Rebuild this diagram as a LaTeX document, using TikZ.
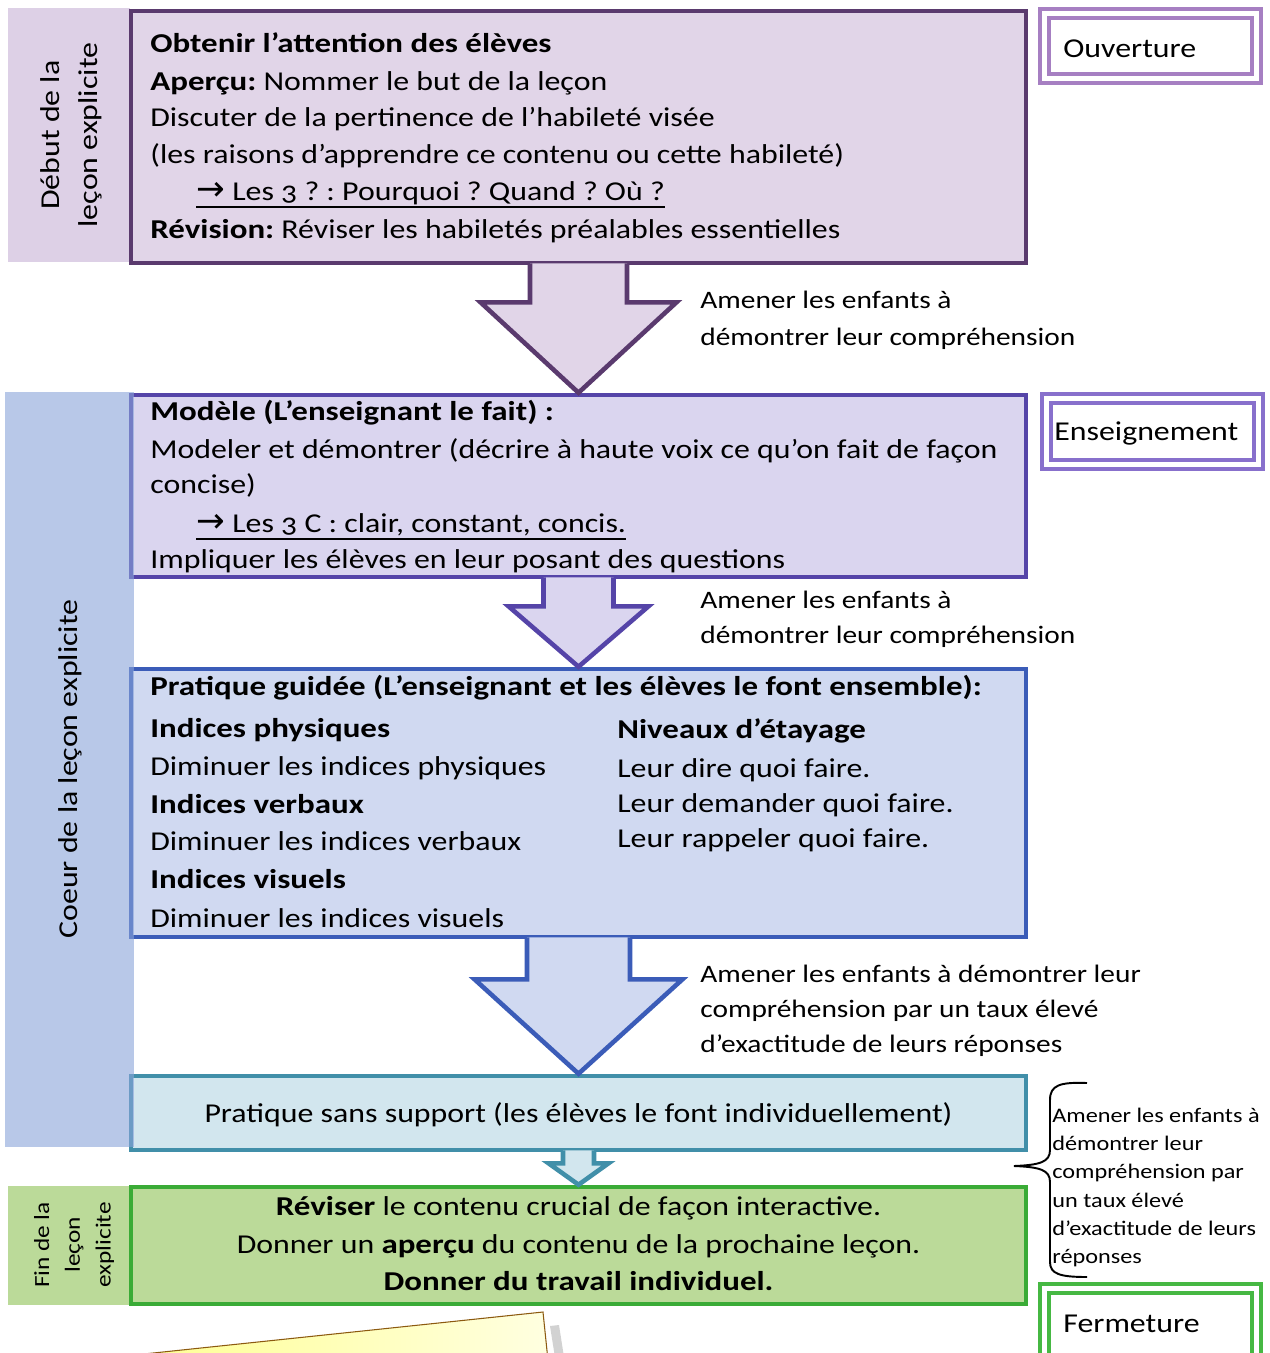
\documentclass[tikz,border=0pt]{standalone}
\usepackage{fontspec}
\setmainfont{Carlito}[FakeStretch=1.17,Numbers=OldStyle,BoldFeatures={FakeStretch=1.21}]
\newfontfamily\arrowfont{DejaVu Sans}
\usetikzlibrary{calc, fit}
\frenchspacing

\definecolor{debutfill}{HTML}{DDD0E6}
\definecolor{obtfill}{HTML}{E1D5E8}
\definecolor{obtline}{HTML}{5A3A6E}
\definecolor{ouvline}{HTML}{A67FC2}
\definecolor{modfill}{HTML}{DAD5EF}
\definecolor{modline}{HTML}{5544A8}
\definecolor{ensline}{HTML}{8870CC}
\definecolor{coeurfill}{HTML}{89A3D9}
\definecolor{guidfill}{HTML}{D0D9F1}
\definecolor{guidline}{HTML}{3B5CB8}
\definecolor{sansfill}{HTML}{D2E6EE}
\definecolor{sansline}{HTML}{418FA9}
\definecolor{finfill}{HTML}{BBDA99}
\definecolor{finline}{HTML}{3AAB36}
\definecolor{fermline}{HTML}{46B843}
\definecolor{paperline}{HTML}{8C5A10}

\newcommand{\txtmain}{\fontsize{15.5}{19}\selectfont}
\newcommand{\txtside}{\fontsize{15.5}{21.5}\selectfont}
\newcommand{\txtnote}{\fontsize{14.3}{18}\selectfont}
\newcommand{\txtsmall}{\fontsize{11.8}{14}\selectfont}
\newcommand{\txtfin}{\fontsize{12.3}{17.5}\selectfont}
\newcommand{\bigarrow}{{\arrowfont\fontsize{19.5}{19}\selectfont →}}

\tikzset{
  stage/.style={draw, line width=2.6pt, inner sep=0pt},
  side/.style={inner sep=0pt},
  line/.style={anchor=base west, inner sep=0pt, font=\txtmain},
  mid/.style={anchor=base, inner sep=0pt, font=\txtmain},
  note/.style={anchor=base west, inner sep=0pt, font=\txtnote},
  small/.style={anchor=base west, inner sep=0pt, font=\txtsmall},
  tag/.style={draw, line width=2.55pt, double=white, double distance=2.3pt, inner sep=0pt},
  bloc/.style={line width=2.6pt, line join=miter},
  uline/.style={line width=0.8pt}
}

\begin{document}
\begin{tikzpicture}[x=0.02cm, y=-0.02cm]
        \useasboundingbox (0,0) rectangle (1270,1353);

        \node[side, fill=debutfill, fit={(8,8) (130,262)}] (debut) {};
        \node[side, fill=finfill, fit={(8,1186) (130,1305)}] (finlab) {};

        \node[stage, fill=obtfill, draw=obtline, fit={(131,11) (1026,263)}] (obtenir) {};
        \node[stage, fill=modfill, draw=modline, fit={(131,395) (1026,577)}] (modele) {};
        \node[stage, fill=guidfill, draw=guidline, fit={(131,669) (1026,937)}] (guidee) {};
        \node[stage, fill=sansfill, draw=sansline, fit={(131,1076) (1026,1150)}] (autonome) {};
        \node[stage, fill=finfill, draw=finline, fit={(131,1187) (1026,1304)}] (fermer) {};

        \node[side, fill=coeurfill, opacity=0.6, fit={(5,392) (134,1147)}] (coeur) {};

        \filldraw[bloc, fill=obtfill, draw=obtline] ($(obtenir.south)+(-48.5,-2)$) -- ($(obtenir.south)+(-48.5,37)$)
        -- ($(obtenir.south)+(-98,37)$) -- (modele.north) -- ($(obtenir.south)+(98,37)$)
        -- ($(obtenir.south)+(48.5,37)$) -- ($(obtenir.south)+(48.5,-2)$);
        \filldraw[bloc, fill=modfill, draw=modline] ($(modele.south)+(-35,-2)$) -- ($(modele.south)+(-35,27)$)
        -- ($(modele.south)+(-70,27)$) -- (guidee.north) -- ($(modele.south)+(70,27)$)
        -- ($(modele.south)+(35,27)$) -- ($(modele.south)+(35,-2)$);
        \filldraw[bloc, fill=guidfill, draw=guidline] ($(guidee.south)+(-51.5,-2)$) -- ($(guidee.south)+(-51.5,40)$)
        -- ($(guidee.south)+(-104,40)$) -- (autonome.north) -- ($(guidee.south)+(104,40)$)
        -- ($(guidee.south)+(51.5,40)$) -- ($(guidee.south)+(51.5,-2)$);
        \filldraw[bloc, fill=sansfill, draw=sansline] ($(autonome.south)+(-15.5,-2)$) -- ($(autonome.south)+(-15.5,11)$)
        -- ($(autonome.south)+(-30,11)$) -- (fermer.north) -- ($(autonome.south)+(30,11)$)
        -- ($(autonome.south)+(15.5,11)$) -- ($(autonome.south)+(15.5,-2)$);

        \node[tag, draw=ouvline, fit={(1044.5,13.5) (1256.5,78.5)}] (tagouv) {};
        \node[tag, draw=ensline, fit={(1046.5,398.5) (1258.5,464.5)}] (tagens) {};
        \node[tag, draw=fermline, fit={(1044.5,1288.5) (1256.5,1380)}] (tagferm) {};

        \fill[gray!35] (550,1326) -- (559,1325) -- (566,1370) -- (557,1370) -- cycle;
        \shadedraw[left color=yellow!45, right color=yellow!12, draw=paperline, line width=0.6pt]
        (100,1358.6) -- (543,1312) -- (549,1370) -- (100,1400) -- cycle;

        \draw[line width=1.1pt] (1087,1083) .. controls (1060,1082) and (1050,1085) .. (1050,1100)
        -- (1050,1150) .. controls (1050,1162) and (1040,1165) .. (1014,1166)
        .. controls (1040,1167) and (1050,1170) .. (1050,1182)
        -- (1050,1262) .. controls (1050,1274) and (1060,1277) .. (1087,1277);

        \node[rotate=90, font=\txtside, align=center] (debuttxt) at (71,135) {Début de la\\leçon explicite};
        \node[rotate=90, font=\txtmain] (coeurtxt) at (70,769) {Coeur de la leçon explicite};
        \node[rotate=90, font=\txtfin, align=center] (fintxt) at (74,1245) {Fin de la\\leçon\\explicite};

        \node[line] (o1) at (150,52) {\textbf{Obtenir l’attention des élèves}};
        \node[line] (o2) at (150,90) {\textbf{Aperçu:} Nommer le but de la leçon};
        \node[line] (o3) at (150,126) {Discuter de la pertinence de l’habileté visée};
        \node[line] (o4) at (150,163) {(les raisons d’apprendre ce contenu ou cette habileté)};
        \node[line] (o5) at (196,200) {\bigarrow\ Les 3 ? : Pourquoi ? Quand ? Où ?};
        \draw[uline] ($(o5.base west)+(0,7)$) -- ($(o5.base east)+(0,7)$);
        \node[line] (o6) at (150,238) {\textbf{Révision:} Réviser les habiletés préalables essentielles};

        \node[line] (m1) at (150,420) {\textbf{Modèle (L’enseignant le fait) :}};
        \node[line] (m2) at (150,458) {Modeler et démontrer (décrire à haute voix ce qu’on fait de façon};
        \node[line] (m3) at (150,493) {concise)};
        \node[line] (m4) at (196,532) {\bigarrow\ Les 3 C : clair, constant, concis.};
        \draw[uline] ($(m4.base west)+(0,7)$) -- ($(m4.base east)+(0,7)$);
        \node[line] (m5) at (150,568) {Impliquer les élèves en leur posant des questions};

        \node[line] (g1) at (150,695) {\textbf{Pratique guidée (L’enseignant et les élèves le font ensemble):}};
        \node[line] (g2) at (150,737) {\textbf{Indices physiques}};
        \node[line] (g3) at (150,775) {Diminuer les indices physiques};
        \node[line] (g4) at (150,813) {\textbf{Indices verbaux}};
        \node[line] (g5) at (150,850) {Diminuer les indices verbaux};
        \node[line] (g6) at (150,888) {\textbf{Indices visuels}};
        \node[line] (g7) at (150,927) {Diminuer les indices visuels};
        \node[line] (n1) at (617,738) {\textbf{Niveaux d’étayage}};
        \node[line] (n2) at (617,777) {Leur dire quoi faire.};
        \node[line] (n3) at (617,812) {Leur demander quoi faire.};
        \node[line] (n4) at (617,847) {Leur rappeler quoi faire.};

        \node[mid] (s1) at (578.5,1122) {Pratique sans support (les élèves le font individuellement)};

        \node[mid] (f1) at (578.5,1215) {\textbf{Réviser} le contenu crucial de façon interactive.};
        \node[mid] (f2) at (578.5,1253) {Donner un \textbf{aperçu} du contenu de la prochaine leçon.};
        \node[mid] (f3) at (578.5,1290) {\textbf{Donner du travail individuel.}};

        \node[note] (a1) at (700,308) {Amener les enfants à};
        \node[note] (a2) at (700,345) {démontrer leur compréhension};
        \node[note] (b1) at (700,608) {Amener les enfants à};
        \node[note] (b2) at (700,643) {démontrer leur compréhension};
        \node[note] (c1) at (700,982) {Amener les enfants à démontrer leur};
        \node[note] (c2) at (700,1017) {compréhension par un taux élevé};
        \node[note] (c3) at (700,1052) {d’exactitude de leurs réponses};

        \node[small] (d1) at (1052,1122) {Amener les enfants à};
        \node[small] (d2) at (1052,1150) {démontrer leur};
        \node[small] (d3) at (1052,1178) {compréhension par};
        \node[small] (d4) at (1052,1207) {un taux élevé};
        \node[small] (d5) at (1052,1235) {d’exactitude de leurs};
        \node[small] (d6) at (1052,1263) {réponses};

        \node[line] (ouvtxt) at (1063,57) {Ouverture};
        \node[line] (enstxt) at (1054,440) {Enseignement};
        \node[line] (fermtxt) at (1063,1332) {Fermeture};

    \end{tikzpicture}
\end{document}
